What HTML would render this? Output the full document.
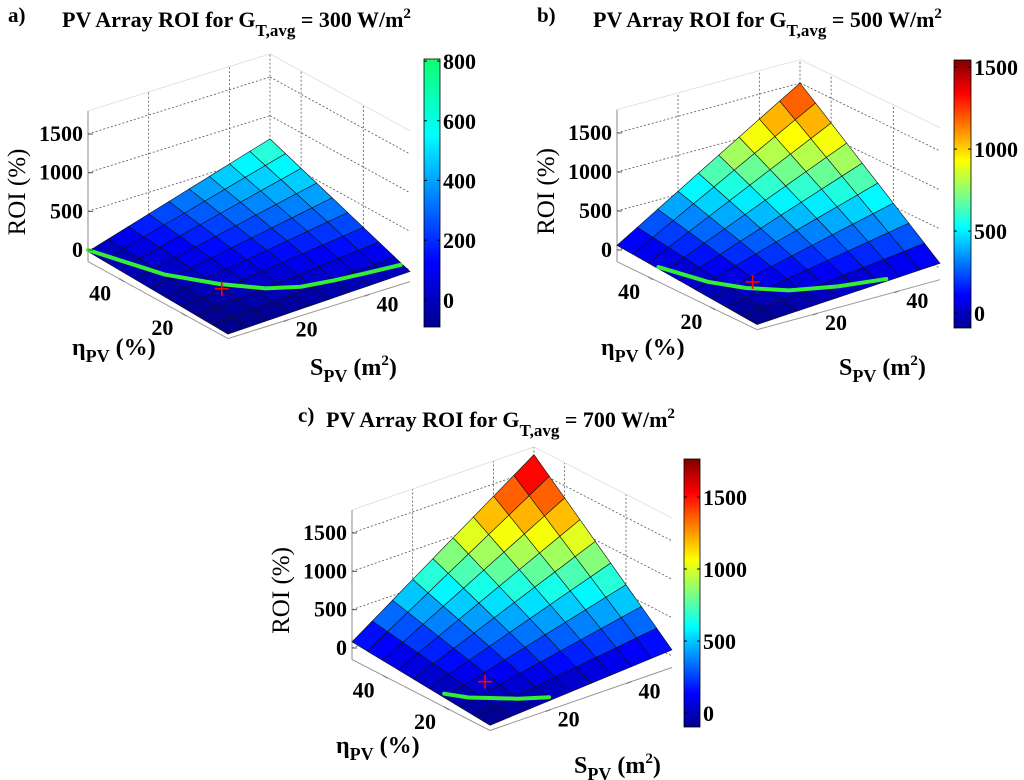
<!DOCTYPE html>
<html><head><meta charset="utf-8">
<style>
body{margin:0;background:#fff;}
svg{display:block;font-family:"Liberation Serif",serif;font-weight:bold;}
</style></head>
<body>
<svg id="fig" width="1024" height="780" viewBox="0 0 1024 780" xmlns="http://www.w3.org/2000/svg">
<defs>
<linearGradient id="jetg" x1="0" y1="1" x2="0" y2="0">
<stop offset="0" stop-color="#00008f"/><stop offset="0.125" stop-color="#0000ff"/>
<stop offset="0.375" stop-color="#00ffff"/><stop offset="0.625" stop-color="#ffff00"/>
<stop offset="0.875" stop-color="#ff0000"/><stop offset="1" stop-color="#800000"/>
</linearGradient>
<linearGradient id="jetpart" x1="0" y1="1" x2="0" y2="0">
<stop offset="0" stop-color="#00008f"/><stop offset="0.24" stop-color="#0000ff"/>
<stop offset="0.72" stop-color="#00ffff"/><stop offset="1" stop-color="#10ff70"/>
</linearGradient>
</defs>
</svg>
<script>
// ---- data ----
const sValues=[5,10,15,20,25,30,35,40,45,50];
const etaValues=[5,10,15,20,25,30,35,40,45,50];
const zTicks=[0,500,1000,1500];
const axisTicks=[20,40];
const roiA=[
[-92,-84,-76,-68,-60,-52,-44,-36,-28,-20],
[-84,-68,-52,-36,-20,-4,12,28,44,60],
[-76,-52,-28,-4,20,44,68,92,116,140],
[-68,-36,-4,28,60,92,124,156,188,220],
[-60,-20,20,60,100,140,180,220,260,300],
[-52,-4,44,92,140,188,236,284,332,380],
[-44,12,68,124,180,236,292,348,404,460],
[-36,28,92,156,220,284,348,412,476,540],
[-28,44,116,188,260,332,404,476,548,620],
[-20,60,140,220,300,380,460,540,620,700]];
const roiB=[
[-84,-68,-52,-36,-20,-4,12,28,44,60],
[-68,-36,-4,28,60,92,124,156,188,220],
[-52,-4,44,92,140,188,236,284,332,380],
[-36,28,92,156,220,284,348,412,476,540],
[-20,60,140,220,300,380,460,540,620,700],
[-4,92,188,284,380,476,572,668,764,860],
[12,124,236,348,460,572,684,796,908,1020],
[28,156,284,412,540,668,796,924,1052,1180],
[44,188,332,476,620,764,908,1052,1196,1340],
[60,220,380,540,700,860,1020,1180,1340,1500]];
const roiC=[
[-82,-64,-46,-28,-10,8,26,44,62,80],
[-64,-28,8,44,80,116,152,188,224,260],
[-46,8,62,116,170,224,278,332,386,440],
[-28,44,116,188,260,332,404,476,548,620],
[-10,80,170,260,350,440,530,620,710,800],
[8,116,224,332,440,548,656,764,872,980],
[26,152,278,404,530,656,782,908,1034,1160],
[44,188,332,476,620,764,908,1052,1196,1340],
[62,224,386,548,710,872,1034,1196,1358,1520],
[80,260,440,620,800,980,1160,1340,1520,1700]];
const greenSA=[5,10,16,22,28,35,42,50];
const greenEA=[50,32,22,15,11.5,10,9,8];
const greenSB=[6,9,13,19,28,38];
const greenEB=[38,26,19,13,9,6.6];
const greenSC=[5.5,8,11,15,20];
const greenEC=[20.6,16,13,9,5.5];
const plusA=[15,20];
const plusB=[16,20.8];
const plusC=[15,19.8];
const cbTicksA=[0,200,400,600,800];
const cbTicksB=[0,500,1000,1500];
const cbTicksC=[0,500,1000,1500];

const NS="http://www.w3.org/2000/svg";
const svg=document.getElementById('fig');
function mk(tag,attrs,parent){const e=document.createElementNS(NS,tag);for(const k in attrs)e.setAttribute(k,attrs[k]);(parent||svg).appendChild(e);return e;}
function jet(t){t=Math.max(0,Math.min(1,t));const c=v=>Math.round(255*Math.max(0,Math.min(1,v)));
return `rgb(${c(1.5-Math.abs(4*t-3))},${c(1.5-Math.abs(4*t-2))},${c(1.5-Math.abs(4*t-1))})`;}

function panel(cfg){
  const g=mk('g',{});
  
  
  const zmin=-150,zmax=1800,smin=5,smax=50;
  const P=(s,e,z)=>{const fs=(s-smin)/(smax-smin),fe=(e-smin)/(smax-smin);
    return [cfg.O[0]+fs*(cfg.R[0]-cfg.O[0])+fe*(cfg.L[0]-cfg.O[0]),
            cfg.O[1]+fs*(cfg.R[1]-cfg.O[1])+fe*(cfg.L[1]-cfg.O[1])-z*cfg.k];};
  const line=(a,b,st,name)=>{const l=mk('line',Object.assign({x1:a[0],y1:a[1],x2:b[0],y2:b[1]},st),g);
    return l;};
  const dot={stroke:'#555','stroke-width':0.8,'stroke-dasharray':'2,2'};
  const light={stroke:'#ddd','stroke-width':0.8};
  zTicks.forEach(z=>{
    line(P(5,50,z),P(50,50,z),dot,'z-gridline');
    line(P(50,50,z),P(50,5,z),dot,'z-gridline');
  });
  axisTicks.concat([50]).forEach(s=>line(P(s,50,zmin),P(s,50,zmax),dot,'s-gridline'));
  axisTicks.forEach(e=>line(P(50,e,zmin),P(50,e,zmax),dot,'eta-gridline'));
  line(P(5,50,zmax),P(50,50,zmax),light,'box-top-edge');
  line(P(50,50,zmax),P(50,5,zmax),light,'box-top-edge');
  line(P(5,50,zmin),P(5,50,zmax),{stroke:'#888','stroke-width':1},'z-axis-line');
  line(P(5,50,zmin),P(5,5,zmin),{stroke:'#999','stroke-width':1},'eta-axis-line');
  line(P(5,5,zmin),P(50,5,zmin),{stroke:'#999','stroke-width':1},'s-axis-line');
  const cells=[];
  for(let i=0;i<sValues.length-1;i++)for(let j=0;j<etaValues.length-1;j++)cells.push([i,j]);
  cells.sort((a,b)=>(b[0]+b[1])-(a[0]+a[1]));
  const Z=cfg.roi;
  cells.forEach(([i,j])=>{
    const pts=[P(sValues[i],etaValues[j],Z[i][j]),P(sValues[i+1],etaValues[j],Z[i+1][j]),
               P(sValues[i+1],etaValues[j+1],Z[i+1][j+1]),P(sValues[i],etaValues[j+1],Z[i][j+1])];
    const m=(Z[i][j]+Z[i+1][j]+Z[i+1][j+1]+Z[i][j+1])/4;
    const p=mk('polygon',{points:pts.map(q=>q.join(',')).join(' '),fill:jet((m-cfg.clim[0])/(cfg.clim[1]-cfg.clim[0])),stroke:'#111','stroke-width':0.6},g);
    
    
  });
  const gp=cfg.gs.map((s,n)=>P(s,cfg.ge[n],0).join(',')).join(' ');
  const gl=mk('polyline',{points:gp,fill:'none',stroke:'#33ee33','stroke-width':4,'stroke-linecap':'round'},g);
  
  
  const pp=P(cfg.plus[0],cfg.plus[1],0);
  const pl=mk('path',{d:`M${pp[0]-7},${pp[1]}h14M${pp[0]},${pp[1]-7}v14`,stroke:'#f00','stroke-width':1.6},g);
  
  
  const txt=(x,y,s,attrs,name)=>{const t=mk('text',Object.assign({x:x,y:y,'font-size':22},attrs||{}),g);t.textContent=s;
    return t;};
  zTicks.forEach(z=>{const q=P(5,50,z);line([q[0],q[1]],[q[0]+5,q[1]],{stroke:'#555'},'z-tick');
    txt(q[0]-5,q[1]+7,String(z),{'text-anchor':'end'},'z-tick-label');});
  axisTicks.forEach(e=>{const q=P(5,e,zmin);line(q,[q[0]+5,q[1]+3],{stroke:'#777'},'eta-tick');
    txt(q[0]-19,q[1]+22,String(e),{'text-anchor':'middle'},'eta-tick-label');});
  axisTicks.forEach(s=>{const q=P(s,5,zmin);line(q,[q[0]-5,q[1]+2],{stroke:'#777'},'s-tick');
    txt(q[0]+18,q[1]+17,String(s),{'text-anchor':'middle'},'s-tick-label');});
  const L=cfg.L;
  const zl=P(5,50,750);
  txt(0,0,'ROI (%)',{transform:`translate(${L[0]-63},${zl[1]}) rotate(-90)`,'text-anchor':'middle','font-size':25,'font-weight':'normal'},'z-axis-title');
  const et=txt(L[0]-16,L[1]+105,'',{'font-size':24},'eta-axis-title');
  et.innerHTML='η<tspan font-size="18" dy="7">PV</tspan><tspan dy="-7"> (%)</tspan>';
  const st=txt(L[0]+222,L[1]+125,'',{'font-size':24},'s-axis-title');
  st.innerHTML='S<tspan font-size="18" dy="7">PV</tspan><tspan dy="-7"> (m</tspan><tspan font-size="15" dy="-10">2</tspan><tspan dy="10">)</tspan>';
  txt(cfg.tag[0],cfg.tag[1],cfg.tagText,{'font-size':21},'panel-tag');
  const ti=txt(cfg.title[0],cfg.title[1],'',{'font-size':22},'panel-title');
  ti.innerHTML=`PV Array ROI for G<tspan font-size="17" dy="9">T,avg</tspan><tspan dy="-9"> = ${cfg.g} W/m</tspan><tspan font-size="15" dy="-9">2</tspan>`;
  const cb=cfg.cb;
  const r=mk('rect',{x:cb[0],y:cb[1],width:cb[2],height:cb[3],fill:cfg.grad,stroke:'#000','stroke-width':0.8},g);
  
  
  cfg.cbTicks.forEach(v=>{const y=cb[1]+cb[3]*(1-(v-cfg.cbRange[0])/(cfg.cbRange[1]-cfg.cbRange[0]));
    line([cb[0],y],[cb[0]+3,y],{stroke:'#000'},'colorbar-tick');
    line([cb[0]+cb[2]-3,y],[cb[0]+cb[2],y],{stroke:'#000'},'colorbar-tick');
    txt(cb[0]+cb[2]+3,y+8,String(v),{},'colorbar-label');});
}
panel({name:'panel-a',O:[228,327],R:[410,270],L:[88,250],k:0.0773,roi:roiA,clim:[-100,1650],
  gs:greenSA,ge:greenEA,plus:plusA,tag:[8,22],tagText:'a)',title:[62,27],g:300,grad:'url(#jetpart)',
  cb:[424,59,16,268],cbTicks:cbTicksA,cbRange:[-91,807]});
panel({name:'panel-b',O:[757,318],R:[940,268],L:[617,250],k:0.078,roi:roiB,clim:[-100,1750],
  gs:greenSB,ge:greenEB,plus:plusB,tag:[537,22],tagText:'b)',title:[593,27],g:500,grad:'url(#jetg)',
  cb:[954,60,17,268],cbTicks:cbTicksB,cbRange:[-91,1543]});
panel({name:'panel-c',O:[490,719],R:[672,656],L:[352,648],k:0.0767,roi:roiC,clim:[-97,1764],
  gs:greenSC,ge:greenEC,plus:plusC,tag:[298,422],tagText:'c)',title:[326,427],g:700,grad:'url(#jetg)',
  cb:[684,459,16,268],cbTicks:cbTicksC,cbRange:[-97,1764]});
</script>
</body></html>
